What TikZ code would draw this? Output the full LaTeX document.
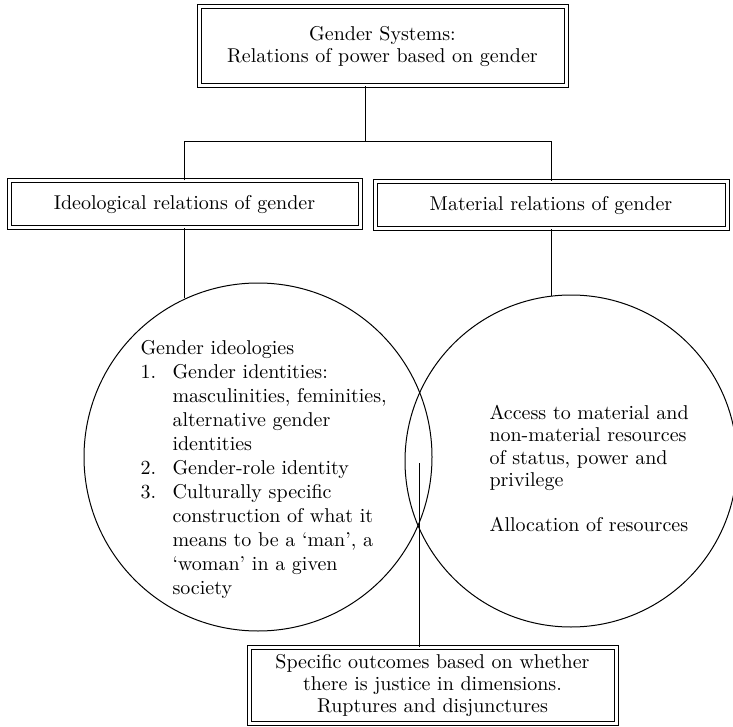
\documentclass[tikz,border=0pt]{standalone}
\usepackage{tikz}
\usetikzlibrary{calc}
\tikzset{
	framebox/.style={draw, double, double distance=1.5pt, line width=0.5pt, inner sep=0pt, align=center, font=\fontsize{10}{11}\selectfont},
	ring/.style={draw, circle, line width=0.5pt, inner sep=0pt},
}

\begin{document}
\begin{tikzpicture}[x=0.5pt, y=-0.5pt, line width=0.5pt]
			%%%%% START %%%%%
			\useasboundingbox (0, 0) rectangle (733, 727);
			
			\node[framebox, minimum width=183.5pt, minimum height=39.5pt] (sys) at (382.5, 46.5) {Gender Systems:\\Relations of power based on gender};
			
			\node[framebox, minimum width=175.5pt, minimum height=23.5pt] (ideo) at (184.5, 204.5) {Ideological relations of gender};
			\node[framebox, minimum width=176pt, minimum height=23.5pt] (mat) at (551, 205.5) {Material relations of gender};
			
			\node[ring, minimum size=174pt] (ideocirc) at (258, 457) {};
			\node[ring, minimum size=166pt] (matcirc) at (571, 461) {};
			
			\node[anchor=base west, inner sep=0pt] (ideotxt) at (140, 354.5) {\begin{tabular}[t]{@{}p{16pt}@{}l@{}}
				\multicolumn{2}{@{}l@{}}{Gender ideologies}\\
				1. & Gender identities:\\
				& masculinities, feminities,\\
				& alternative gender\\
				& identities\\
				2. & Gender-role identity\\
				3. & Culturally specific\\
				& construction of what it\\
				& means to be a `man', a\\
				& `woman' in a given\\
				& society
			\end{tabular}};
			
			\node[anchor=base west, inner sep=0pt] (mattxt) at (489, 419) {\renewcommand{\arraystretch}{0.9375}\begin{tabular}[t]{@{}l@{}}
				Access to material and\\
				non-material resources\\
				of status, power and\\
				privilege\\
				\\
				Allocation of resources
			\end{tabular}};
			
			\node[framebox, minimum width=183.5pt, minimum height=38pt] (outc) at (432.5, 685) {Specific outcomes based on whether\\there is justice in dimensions.\\Ruptures and disjunctures};
			
			\coordinate (split) at (365, 141.5);
			\coordinate (overlap) at (419, 463);
			
			\draw (sys.south -| split) -- (split);
			\draw (ideo.north) |- (split) -| (mat.north);
			\draw (ideo.south) -- (ideo.south |- ideocirc.114);
			\draw (mat.south) -- (mat.south |- matcirc.97);
			\draw (overlap) -- (overlap |- outc.north);
			
			%%%%% END %%%%%
\end{tikzpicture}
\end{document}
